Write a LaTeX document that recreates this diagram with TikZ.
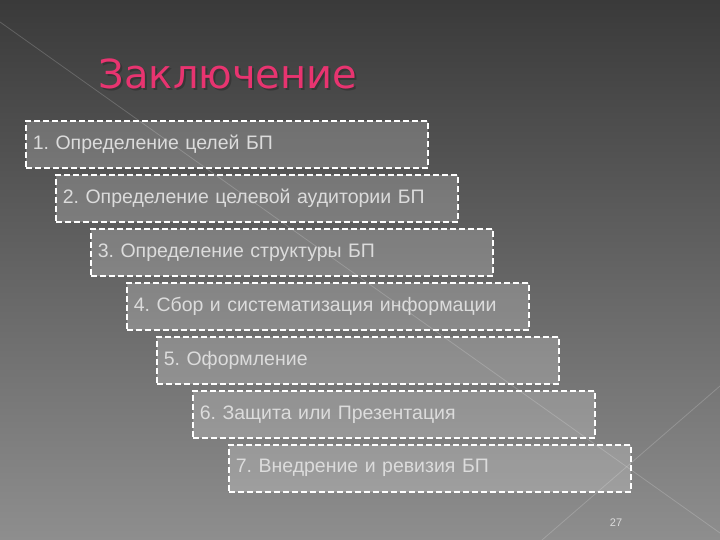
\documentclass[tikz,border=0pt]{standalone}
\usepackage{fontspec}
\setmainfont{Liberation Sans}
\newfontfamily\titlefont{DejaVu Sans}
\usetikzlibrary{positioning}
\definecolor{titlepink}{RGB}{232,52,112}
\definecolor{steptext}{RGB}{220,220,220}
\tikzset{
  stepbox/.style={draw=white, line width=1.6pt, dash pattern=on 6pt off 3pt,
    fill=white, fill opacity=0.2, text opacity=1, text=steptext,
    minimum width=402pt, minimum height=47pt, text width=388pt,
    inner xsep=7pt, align=left, anchor=north west,
    font=\fontsize{19.5}{22}\selectfont},
}
\frenchspacing

\begin{document}
\begin{tikzpicture}[x=1pt,y=-1pt]
\useasboundingbox (0,0) rectangle (720,540);
\shade[top color={rgb,255:red,58;green,58;blue,58}, bottom color={rgb,255:red,142;green,142;blue,142}] (0,0) rectangle (720,540);
\draw[white, opacity=0.18, line width=0.8pt] (0,22) -- (720,533);
\draw[white, opacity=0.18, line width=0.8pt] (720,386) -- (542,540);
\node[text=black!80, opacity=0.8, font=\titlefont\fontsize{40}{44}\selectfont] at (230,76) {Заключение};
\node (title) [text=titlepink, font=\titlefont\fontsize{40}{44}\selectfont] at (228,74) {Заключение};
\node (s1) [stepbox] at (25,120) {1. Определение целей БП};
\node (s2) [stepbox] at (55,174) {2. Определение целевой аудитории БП};
\node (s3) [stepbox] at (90,228) {3. Определение структуры БП};
\node (s4) [stepbox] at (126,282) {4. Сбор и систематизация информации};
\node (s5) [stepbox] at (156,336) {5. Оформление};
\node (s6) [stepbox] at (192,390) {6. Защита или Презентация};
\node (s7) [stepbox] at (228,444) {7. Внедрение и ревизия БП};
\node (page) [text=steptext, font=\fontsize{11}{13}\selectfont] at (616,523) {27};
\end{tikzpicture}
\end{document}
